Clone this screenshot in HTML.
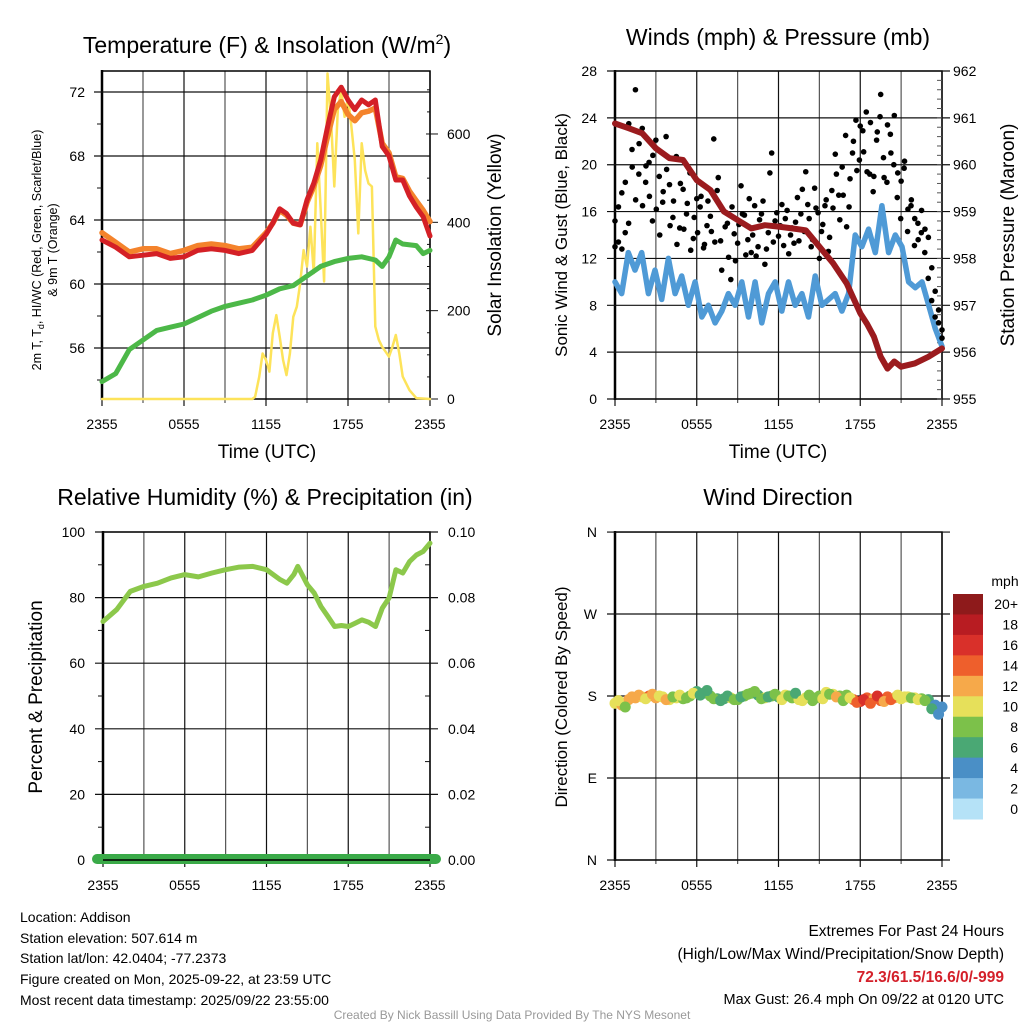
<!DOCTYPE html>
<html><head><meta charset="utf-8"><style>
html,body{margin:0;padding:0;background:#fff;}
svg{display:block;font-family:"Liberation Sans",Arial,sans-serif;}
</style></head><body>
<svg id="fig" width="1024" height="1024" viewBox="0 0 1024 1024" xmlns="http://www.w3.org/2000/svg">
<rect width="1024" height="1024" fill="#fff"/>
<text x="267" y="53" font-size="23" text-anchor="middle">Temperature (F) &amp; Insolation (W/m<tspan font-size="14" dy="-9">2</tspan><tspan dy="9">)</tspan></text>
<text x="778" y="45" font-size="23" text-anchor="middle">Winds (mph) &amp; Pressure (mb)</text>
<text x="265" y="505" font-size="23" text-anchor="middle">Relative Humidity (%) &amp; Precipitation (in)</text>
<text x="778" y="505" font-size="23" text-anchor="middle">Wind Direction</text>

<text transform="translate(41,250) rotate(-90)" font-size="12.5" text-anchor="middle">2m T, T<tspan font-size="9" dy="3">d</tspan><tspan dy="-3">, HI/WC (Red, Green, Scarlet/Blue)</tspan></text>
<text transform="translate(57,250) rotate(-90)" font-size="12.5" text-anchor="middle">&amp; 9m T (Orange)</text>
<text transform="translate(501,235) rotate(-90)" font-size="19" text-anchor="middle">Solar Insolation (Yellow)</text>
<text x="267" y="458" font-size="19" text-anchor="middle">Time (UTC)</text>
<text x="778" y="458" font-size="19" text-anchor="middle">Time (UTC)</text>
<text transform="translate(567,235) rotate(-90)" font-size="17" text-anchor="middle">Sonic Wind &amp; Gust (Blue, Black)</text>
<text transform="translate(1014,235) rotate(-90)" font-size="19" text-anchor="middle">Station Pressure (Maroon)</text>
<text transform="translate(42,697) rotate(-90)" font-size="19" text-anchor="middle">Percent &amp; Precipitation</text>
<text transform="translate(567,697) rotate(-90)" font-size="17" text-anchor="middle">Direction (Colored By Speed)</text>

<g font-size="14">
<text x="20" y="922">Location: Addison</text>
<text x="20" y="943">Station elevation: 507.614 m</text>
<text x="20" y="963">Station lat/lon: 42.0404; -77.2373</text>
<text x="20" y="984">Figure created on Mon, 2025-09-22, at 23:59 UTC</text>
<text x="20" y="1005">Most recent data timestamp: 2025/09/22 23:55:00</text>
</g>
<g text-anchor="end">
<text x="1004" y="936" font-size="15.5">Extremes For Past 24 Hours</text>
<text x="1004" y="959" font-size="15.5">(High/Low/Max Wind/Precipitation/Snow Depth)</text>
<text x="1004" y="982" font-size="15.5" font-weight="bold" fill="#d4202a">72.3/61.5/16.6/0/-999</text>
<text x="1004" y="1004" font-size="14.5">Max Gust: 26.4 mph On 09/22 at 0120 UTC</text>
</g>
<text x="512" y="1019" font-size="12" fill="#999" text-anchor="middle">Created By Nick Bassill Using Data Provided By The NYS Mesonet</text>
<g id="plots"></g>
</svg>
<script>
// ---- data ----
const timeLabels = ["2355","0555","1155","1755","2355"];
const tempTicks = [72,68,64,60,56];
const solarTicks = [0,200,400,600];
const windTicks = [0,4,8,12,16,20,24,28];
const pressTicks = [955,956,957,958,959,960,961,962];
const rhTicks = [0,20,40,60,80,100];
const precipTickLabels = ["0.00","0.02","0.04","0.06","0.08","0.10"];
const dirLabels = ["N","E","S","W","N"];
const speedBins = ["0","2","4","6","8","10","12","14","16","18","20+"];
const speedColors = ["#b5e2f7","#7ab8e2","#4a8fc6","#4aa874","#7cc14a","#e6e05a","#f6a94a","#ee5f2c","#d9302a","#b81c22","#8e1a1b"];

const tempRed = [62.75,62.3,61.7,61.8,61.9,61.6,61.7,62.1,62.2,62.1,61.9,62.1,63.1,63.8,64.7,64.4,63.8,63.7,65.25,66.3,67.75,69.8,71.7,72.3,71.5,70.9,71.5,71.2,71.5,68.6,68.0,66.5,66.5,65.5,64.8,64.2,63.0];
const tempRedHours = [0,1,2,3,4,5,6,7,8,9,10,11,12,12.5,13,13.5,14,14.5,15,15.5,16,16.5,17,17.5,18,18.5,19,19.5,20,20.5,21,21.5,22,22.5,23,23.5,24];
const tempOrange = [63.2,62.6,62.0,62.2,62.2,61.9,62.1,62.4,62.5,62.4,62.2,62.3,63.2,63.8,64.6,64.3,63.8,63.7,65.1,66.1,67.4,69.2,70.9,71.4,70.6,70.2,70.7,70.8,71.0,68.8,68.2,66.7,66.6,65.8,65.2,64.6,63.9];
const dewGreen = [53.9,54.4,55.9,56.5,57.1,57.3,57.5,57.9,58.3,58.6,58.8,59.0,59.3,59.7,59.9,60.5,61.1,61.4,61.6,61.7,61.5,61.1,61.7,62.75,62.5,62.4,61.9,62.1];
const dewHours = [0,1,2,3,4,5,6,7,8,9,10,11,12,13,14,15,16,17,18,19,20,20.5,21,21.5,22,23,23.5,24];
const solarHours = [0,11,11.2,11.5,11.75,12,12.25,12.5,12.75,13,13.25,13.5,13.75,14,14.25,14.5,14.75,15,15.25,15.5,15.75,16,16.25,16.5,16.75,17,17.25,17.5,17.75,18,18.25,18.5,18.75,19,19.25,19.5,19.75,20,20.25,20.5,20.75,21,21.25,21.5,21.75,22,22.5,23,24];
const solarVals = [0,0,5,50,103,88,62,149,190,141,88,54,103,186,209,262,337,300,390,285,579,428,266,737,639,481,654,700,639,684,617,541,375,579,518,488,481,164,134,118,107,96,118,145,103,51,20,2,0];

const pressure = [960.88,960.78,960.67,960.35,960.14,960.1,959.67,959.46,959.0,958.82,958.64,958.71,958.68,958.64,958.6,958.25,957.9,957.47,956.83,956.6,956.33,955.9,955.65,955.8,955.69,955.76,955.9,956.08];
const pressHours = [0,1,2,3,4,5,6,7,8,9,10,11,12,13,14,15,16,17,18,18.5,19,19.5,20,20.5,21,22,23,24];
const sonicWind = [10,9,12.5,11,12.5,9,11,8.5,12,9,10.5,8,10,7,8,6.5,7.5,9,8,10,7,10,6.5,9,10,7.5,10,8,9,7,10.5,8,8.5,9,7.5,9,14,13,14.5,12.5,16.5,12.5,14,13,10,9.5,10,8,6,4.5];
const gusts = [15.2,13.4,17.6,14.2,15.0,21.3,26.4,19.2,23.1,18.5,20.2,15.2,22.1,19.0,16.8,22.4,18.3,15.5,20.7,14.6,17.9,15.8,19.3,13.7,17.1,16.4,12.9,14.8,15.6,22.2,17.8,13.5,16.0,15.0,10.2,14.1,13.3,18.2,15.7,13.6,12.5,16.5,13.0,15.8,11.5,14.2,21.0,15.2,13.9,16.6,15.4,12.4,14.6,15.1,13.5,17.9,19.4,15.4,13.6,16.3,12.0,14.9,17.0,13.8,16.3,19.2,15.3,17.4,14.7,18.8,22.0,19.5,23.3,21.1,19.4,23.6,19.0,22.8,26.0,18.9,23.4,21.0,24.2,19.3,18.6,20.3,16.2,17.0,15.4,13.6,16.1,14.5,13.8,11.2,9.2,7.6,5.9];
const gusts2 = [13.0,16.4,12.8,18.5,23.5,19.8,17.0,21.8,16.5,19.9,17.3,20.8,16.2,14.0,17.7,19.6,14.8,16.9,13.2,18.4,14.5,16.7,12.7,15.5,14.2,17.3,13.2,16.9,14.3,13.4,18.9,11.0,14.7,12.1,16.4,11.8,14.9,15.8,12.3,17.1,14.0,12.2,15.3,16.9,12.8,19.3,13.4,15.9,14.8,13.1,16.1,14.0,13.3,17.2,15.8,14.3,16.6,13.0,18.0,15.9,14.3,16.5,12.6,17.8,20.9,17.4,19.8,22.5,16.4,21.0,23.8,20.4,22.9,24.5,19.2,17.7,22.1,24.1,20.6,18.5,22.6,20.0,17.2,15.4,19.7,14.3,16.5,13.1,15.0,14.2,12.5,10.3,8.4,7.0,6.5,5.2];
const rh = [72.7,76.3,81.9,83.4,84.4,86.0,87.0,86.3,87.5,88.5,89.3,89.5,88.5,85.5,84.4,87.0,89.5,83.9,81.4,77.3,74.3,71.2,71.5,71.2,72.2,73.2,72.5,71.2,76.8,79.9,88.5,87.5,91.0,93.0,94.1,96.6];
const rhHours = [0,1,2,3,4,5,6,7,8,9,10,11,12,13,13.5,14,14.3,15,15.5,16,16.5,17,17.5,18,18.5,19,19.5,20,20.5,21,21.5,22,22.5,23,23.5,24];
const windDir = [172,170,176,178,179,180,178,179,176,178,177,180,185,183,180,177,177,178,176,180,183,181,178,180,179,181,178,176,178,175,180,184,182,180,181,176,174,178,177,175,179,178,177,179,178,177,176,170,168];
const windSpeed = [11,12.5,13,12,11,14,12,10.5,11,10,9,9.5,6.5,7,8,7.5,6.5,10,9,8,8.5,7,10,8,7.5,10,8.5,11,10,9,8,11,10.5,8.5,9.5,14,16,15,13.5,14.5,15,12.5,10,10.5,10,9,7,5,4.5];
const windDir2 = [175,168,179,181,177,182,180,176,179,181,178,183,181,186,177,175,180,176,179,182,185,177,179,182,176,180,183,175,181,178,177,182,179,175,178,173,176,172,180,174,176,181,179,178,176,175,166,160];
const windSpeed2 = [10,9,12,13,10.5,12,11,13,9,10.5,8,10,7,6.5,9,6,7.5,8,6.5,9,8,9.5,7,8.5,10,9,7,11,8.5,9.5,10,8,12,9,10.5,15,17,14,16,13,14,11,10.5,9,10,8,6,4];

// ---- helpers ----
const NS="http://www.w3.org/2000/svg";
const root=document.getElementById('plots');
function mk(tag,attrs,parent){const e=document.createElementNS(NS,tag);for(const k in attrs)e.setAttribute(k,attrs[k]);(parent||root).appendChild(e);return e;}
function evenHours(n){const a=[];for(let i=0;i<n;i++)a.push(i*24/(n-1));return a;}
function poly(xs,ys,xf,yf,color,w,name){
  const pts=xs.map((h,i)=>xf(h).toFixed(1)+','+yf(ys[i]).toFixed(1)).join(' ');
  const e=mk('polyline',{points:pts,fill:'none',stroke:color,'stroke-width':w,'stroke-linejoin':'round','stroke-linecap':'round'});
  
  
  return e;
}
function txt(x,y,s,anchor,size){const e=mk('text',{x:x,y:y,'font-size':size||14,'text-anchor':anchor||'middle'});e.textContent=s;return e;}
function frame(L,R,T,B,xf,name){
  const g=mk('g',{});
  
  
  for(let h=0;h<=24;h+=3){mk('line',{x1:xf(h),x2:xf(h),y1:T,y2:B+(h%6===0?7:4),stroke:(h%6===0?'#111':'#555'),'stroke-width':1.2},g);}
  mk('rect',{x:L,y:T,width:R-L,height:B-T,fill:'none',stroke:'#000','stroke-width':1.5},g);
  mk('line',{x1:L,x2:L,y1:T-1,y2:B+1,stroke:'#000','stroke-width':2.5},g);
  timeLabels.forEach((s,i)=>{const t=txt(xf(i*6),B+30,s,'middle',14);});
  return g;
}

// ---- panel 1: temperature ----
const x1=h=>102+h*(328/24);
const yT=t=>92+(72-t)*16;
const yS=w=>399-w*0.4417;
frame(102,430,71,399,x1,'temperature-frame');
tempTicks.forEach(t=>{mk('line',{x1:94,x2:430,y1:yT(t),y2:yT(t),stroke:'#111','stroke-width':1.2});const e=txt(85,yT(t)+5,t,'end',14);});
[70,66,62,58,54].forEach(t=>mk('line',{x1:97,x2:102,y1:yT(t),y2:yT(t),stroke:'#111'}));
for(let w=0;w<=700;w+=50){mk('line',{x1:w%200===0?426:427,x2:w%200===0?438:430,y1:yS(w),y2:yS(w),stroke:'#111'});}
solarTicks.forEach(w=>{const e=txt(447,yS(w)+5,w,'start',14);});
poly(solarHours,solarVals,x1,yS,'#fde35a',2.5,'solar-insolation-line');
poly(dewHours,dewGreen,x1,yT,'#4cb848',5,'dewpoint-line');
poly(tempRedHours,tempOrange,x1,yT,'#f4832c',5.5,'temp-9m-line');
poly(tempRedHours,tempRed,x1,yT,'#d42026',5,'temp-2m-line');

// ---- panel 2: winds ----
const x2=h=>615+h*(327/24);
const yW=m=>399-m*11.714;
const yP=p=>71+(962-p)*46.86;
frame(615,942,71,399,x2,'wind-frame');
windTicks.forEach(m=>{mk('line',{x1:607,x2:950,y1:yW(m),y2:yW(m),stroke:'#111','stroke-width':1.2});const e=txt(597,yW(m)+5,m,'end',14);});
pressTicks.forEach(p=>{const e=txt(953,yP(p)+5,p,'start',14);});
for(let p=955;p<=962;p+=0.2){mk('line',{x1:937,x2:942,y1:yP(p),y2:yP(p),stroke:'#555'});}
poly(evenHours(sonicWind.length),sonicWind,x2,yW,'#4f9ad6',5.5,'sonic-wind-line');
const gh=evenHours(gusts.length);
gusts.forEach((g,i)=>{const c=mk('circle',{cx:x2(gh[i]),cy:yW(g),r:2.8,fill:'#000'});});
const gh2=evenHours(gusts2.length);
gusts2.forEach((g,i)=>{const c=mk('circle',{cx:x2(gh2[i]),cy:yW(g),r:2.8,fill:'#000'});});
poly(pressHours,pressure,x2,yP,'#9b1b1e',6,'pressure-line');

// ---- panel 3: RH ----
const x3=h=>103+h*(327/24);
const yR=r=>860-r*3.28;
frame(103,430,532,860,x3,'humidity-frame');
rhTicks.forEach((r,i)=>{mk('line',{x1:95,x2:438,y1:yR(r),y2:yR(r),stroke:'#111','stroke-width':1.2});const e=txt(85,yR(r)+5,r,'end',14);const f=txt(448,yR(r)+5,precipTickLabels[i],'start',14);});
for(let r=10;r<100;r+=20){mk('line',{x1:98,x2:103,y1:yR(r),y2:yR(r),stroke:'#111'});mk('line',{x1:425,x2:430,y1:yR(r),y2:yR(r),stroke:'#111'});}
poly(rhHours,rh,x3,yR,'#8cc84b',5,'relative-humidity-line');
const pr=mk('line',{x1:x3(0)-6,x2:x3(24)+6,y1:yR(0)-1,y2:yR(0)-1,stroke:'#3aaa48','stroke-width':10,'stroke-linecap':'round'});


mk('line',{x1:103,x2:430,y1:860,y2:860,stroke:'#000','stroke-width':1.5});

// ---- panel 4: wind direction ----
const yD=d=>860-d*0.911;
frame(615,942,532,860,x2,'direction-frame');
[0,90,180,270,360].forEach((d,i)=>{mk('line',{x1:607,x2:950,y1:yD(d),y2:yD(d),stroke:'#111','stroke-width':1.2});const e=txt(597,yD(d)+5,dirLabels[i],'end',14);});
const dh=evenHours(windDir.length);
windDir.forEach((d,i)=>{const bin=Math.min(10,Math.floor(windSpeed[i]/2));const c=mk('circle',{cx:x2(dh[i]),cy:yD(d),r:5.5,fill:speedColors[bin]});});
windDir2.forEach((d,i)=>{const bin=Math.min(10,Math.floor(windSpeed2[i]/2));const c=mk('circle',{cx:x2((i+0.5)*24/windDir2.length),cy:yD(d),r:5.5,fill:speedColors[bin]});});
// colorbar
const cb=mk('g',{});


const cbTop=594, cbH=225/11;
speedBins.forEach((s,i)=>{const k=10-i;mk('rect',{x:953,y:cbTop+i*cbH,width:30,height:cbH+0.5,fill:speedColors[k]},cb);const t=txt(1018,cbTop+i*cbH+cbH/2+5,speedBins[k],'end',14);});
const mph=txt(1005,586,'mph','middle',14);


</script>
</body></html>
